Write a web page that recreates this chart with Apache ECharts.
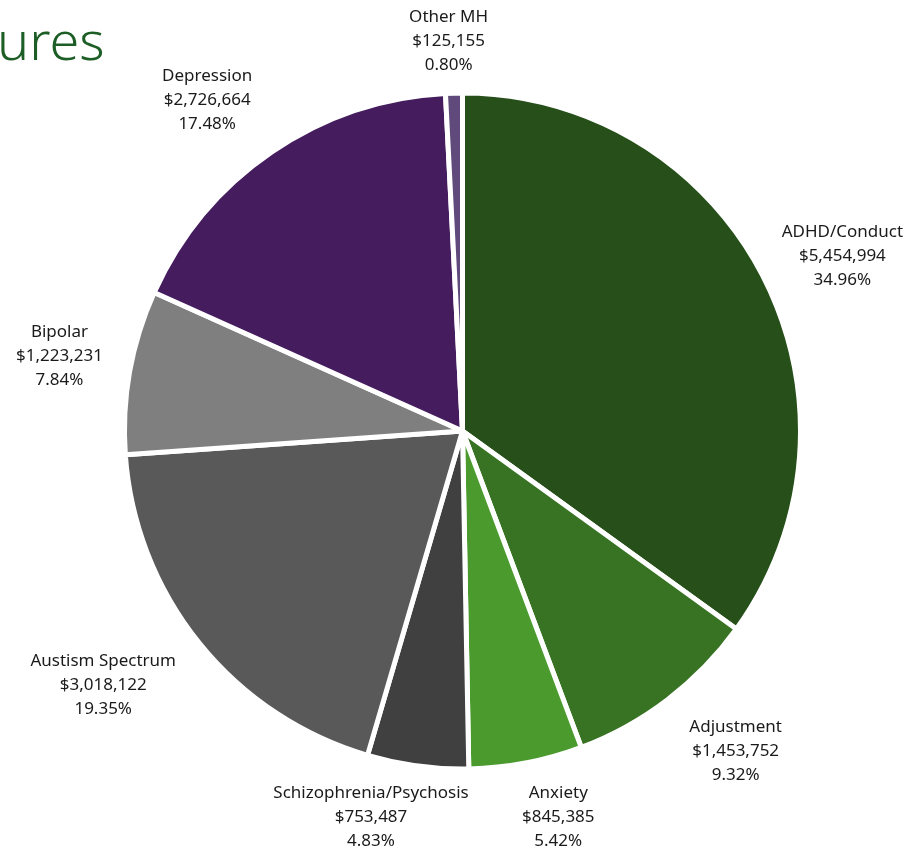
<!DOCTYPE html>
<html>
<head>
<meta charset="utf-8">
<script src="https://cdn.jsdelivr.net/npm/echarts@6/dist/echarts.min.js"></script>
<style>
  html, body { margin: 0; padding: 0; background: #ffffff; }
  #chart { width: 911px; height: 852px; }
</style>
</head>
<body>
<div id="chart"></div>
<script>
// Spending by diagnosis group, clockwise from 12 o'clock
const categories = [
  'ADHD/Conduct', 'Adjustment', 'Anxiety', 'Schizophrenia/Psychosis',
  'Austism Spectrum', 'Bipolar', 'Depression', 'Other MH'
];
const amounts = [5454994, 1453752, 845385, 753487, 3018122, 1223231, 2726664, 125155];
const shares = ['34.96%', '9.32%', '5.42%', '4.83%', '19.35%', '7.84%', '17.48%', '0.80%'];
const colors = ['#264f19', '#377323', '#4a9a2e', '#404040', '#595959', '#7f7f7f', '#451c5e', '#604a7b'];

// Pie geometry and label placement (angle nudge in degrees, distance of the
// label block's centre from the pie centre in px)
const CX = 462.5, CY = 431, R = 338;
const labelNudge = [2.4, -3.1, -3.1, 5.7, 3.6, 0.5, -3.3, -0.6];
const labelDist = [418, 421, 398, 397, 440, 410, 418, 390];

const total = amounts.reduce((a, b) => a + b, 0);
const before = amounts.map((_, i) => amounts.slice(0, i).reduce((a, b) => a + b, 0));

const fmtMoney = v => '$' + v.toLocaleString('en-US');

const chart = echarts.init(document.getElementById('chart'), null, { renderer: 'canvas' });

chart.setOption({
  animation: false,
  backgroundColor: '#ffffff',
  graphic: [{
    type: 'text',
    left: -3,
    top: 18,
    style: {
      text: 'ures',
      fill: '#1d5e26',
      font: '300 54px "Noto Sans"'
    }
  }],
  series: [{
    type: 'pie',
    center: [CX, CY],
    radius: [0, R],
    startAngle: 90,
    clockwise: true,
    avoidLabelOverlap: false,
    emphasis: { disabled: true },
    itemStyle: { borderColor: '#ffffff', borderWidth: 5 },
    label: {
      show: true,
      position: 'outside',
      fontFamily: '"Noto Sans", sans-serif',
      fontSize: 17,
      lineHeight: 24,
      color: '#1a1a1a',
      align: 'center',
      formatter: p => p.name + '\n' + fmtMoney(p.value) + '\n' + shares[p.dataIndex]
    },
    labelLine: { show: false },
    // place each label block outside the rim, near the slice's mid-angle
    labelLayout: params => {
      const i = params.dataIndex;
      const midDeg = (before[i] + amounts[i] / 2) / total * 360 + labelNudge[i];
      const theta = midDeg * Math.PI / 180;
      const d = labelDist[i];
      return {
        x: CX + Math.sin(theta) * d,
        y: CY - Math.cos(theta) * d,
        align: 'center',
        verticalAlign: 'middle'
      };
    },
    data: categories.map((name, i) => ({
      name,
      value: amounts[i],
      itemStyle: { color: colors[i] }
    }))
  }]
});
</script>
</body>
</html>
